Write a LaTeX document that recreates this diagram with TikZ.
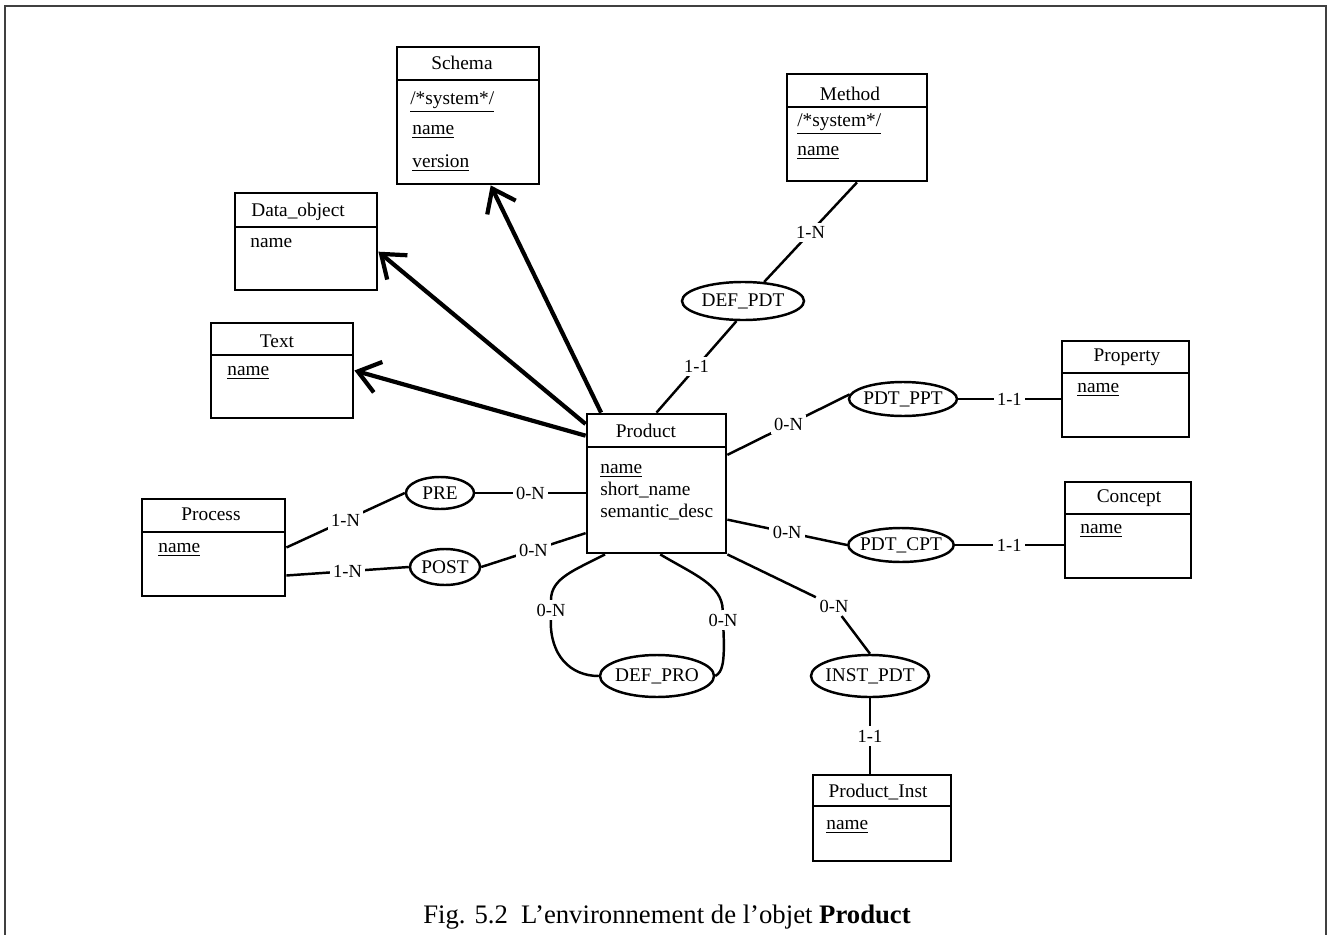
\documentclass[tikz,border=0pt]{standalone}
\usepackage{fontspec}
\setmainfont{Liberation Serif}
\usetikzlibrary{arrows.meta,shapes.geometric,positioning,calc}

\begin{document}
\begin{tikzpicture}[
    x=0.2mm, y=-0.2mm,
    ent/.style={draw, line width=1.6pt, inner sep=0pt},
    hdr/.style={line width=1.6pt},
    ttl/.style={inner sep=0pt, font=\fontsize{11}{13}\selectfont},
    attr/.style={anchor=west, inner sep=0pt, align=left, font=\fontsize{11}{12.5}\selectfont},
    rel/.style={draw, ellipse, line width=1.4pt, inner xsep=-2pt, inner ysep=0pt, font=\fontsize{11}{13}\selectfont},
    card/.style={fill=white, inner sep=2pt, font=\fontsize{10.5}{12}\selectfont},
    link/.style={line width=1.4pt},
    isa/.style={line width=2.4pt, -{Straight Barb[length=12pt,width=18pt]}}
]
\useasboundingbox (0,0) rectangle (1332,935);
\draw[line width=1.2pt, black!75] (5,935) -- (5,6) -- (1326,6) -- (1326,935);

% entities
\node[ent, minimum width=28.4mm, minimum height=27.4mm] (schema) at (468,115.5) {};
\draw[hdr] (397,80) -- (539,80);
\node[ttl] at (462,63) {Schema};
\node[attr] at (410,102) {\underline{/*system*/}};
\node[attr] at (412,132) {\underline{name}};
\node[attr] at (412,163) {\underline{version}};

\node[ent, minimum width=28mm, minimum height=21.4mm] (method) at (857,127.5) {};
\draw[hdr] (787,107) -- (927,107);
\node[ttl] at (850,94) {Method};
\node[attr] at (797,124) {\underline{/*system*/}};
\node[attr] at (797,153) {\underline{name}};

\node[ent, minimum width=28.4mm, minimum height=19.4mm] (dataobj) at (306,241.5) {};
\draw[hdr] (235,227) -- (377,227);
\node[ttl] at (298,212) {Data\_object};
\node[attr] at (250,243) {name};

\node[ent, minimum width=28.4mm, minimum height=19mm] (txt) at (282,370.5) {};
\draw[hdr] (211,355) -- (353,355);
\node[ttl] at (277,341) {Text};
\node[attr] at (227,373) {\underline{name}};

\node[ent, minimum width=27.8mm, minimum height=27.8mm] (product) at (656.5,483.5) {};
\draw[hdr] (587,447) -- (726,447);
\node[ttl] at (646,431) {Product};
\node[attr] at (600,492) {\underline{name}\\short\_name\\semantic\_desc};

\node[ent, minimum width=28.6mm, minimum height=19.4mm] (process) at (213.5,547.5) {};
\draw[hdr] (142,532) -- (285,532);
\node[ttl] at (211,514) {Process};
\node[attr] at (158,550) {\underline{name}};

\node[ent, minimum width=25.4mm, minimum height=19.2mm] (property) at (1125.5,389) {};
\draw[hdr] (1062,373) -- (1189,373);
\node[ttl] at (1127,357) {Property};
\node[attr] at (1077,390) {\underline{name}};

\node[ent, minimum width=25.2mm, minimum height=19.2mm] (concept) at (1128,530) {};
\draw[hdr] (1065,514) -- (1191,514);
\node[ttl] at (1129,498) {Concept};
\node[attr] at (1080,531) {\underline{name}};

\node[ent, minimum width=27.6mm, minimum height=17.2mm] (pinst) at (882,818) {};
\draw[hdr] (813,806) -- (951,806);
\node[ttl] at (878,792) {Product\_Inst};
\node[attr] at (826,827) {\underline{name}};

% relationships
\node[rel, minimum width=24.4mm, minimum height=7.6mm] (defpdt) at (743,301) {DEF\_PDT};
\node[rel, minimum width=21.6mm, minimum height=6.8mm] (pdtppt) at (903,399) {PDT\_PPT};
\node[rel, minimum width=20.8mm, minimum height=6.8mm] (pdtcpt) at (901,545) {PDT\_CPT};
\node[rel, minimum width=13.6mm, minimum height=6.4mm] (pre) at (440,493) {PRE};
\node[rel, minimum width=14mm, minimum height=7.2mm] (post) at (445,567) {POST};
\node[rel, minimum width=22.8mm, minimum height=8.4mm] (defpro) at (657,676) {DEF\_PRO};
\node[rel, minimum width=23.6mm, minimum height=8.4mm] (instpdt) at (870,676) {INST\_PDT};

% links
\draw[link] (method.south) -- node[card] {1-N} (defpdt.42);
\draw[link] (defpdt.252) -- node[card] {1-1} (product.north);
\draw[link] (product.22) -- node[card] {0-N} (pdtppt.175);
\draw[link] (pdtppt.east) -- node[card] {1-1} (pdtppt.east -| property.west);
\draw[link] (product.333) -- node[card] {0-N} (pdtcpt.west);
\draw[link] (pdtcpt.east) -- node[card] {1-1} (pdtcpt.east -| concept.west);
\node[card] (cinst) at (834,606) {0-N};
\draw[link] (product.south east) -- (cinst) -- (instpdt.north);
\draw[link] (instpdt.south) -- node[card] {1-1} (instpdt.south |- pinst.north);
\draw[link] (pre.east) -- node[card] {0-N} (pre.east -| product.west);
\draw[link] (process.east) -- node[card] {1-N} (pre.west);
\draw[link] (process.339) -- node[card] {1-N} (post.west);
\draw[link] (post.east) -- node[card] {0-N} (product.215);

% recursive DEF_PRO
\node[card] (cpro1) at (551,610) {0-N};
\node[card] (cpro2) at (723,620) {0-N};
\draw[link] (product.234) .. controls (575,570) and (551,578) .. (cpro1);
\draw[link] (cpro1) .. controls (550,655) and (570,676) .. (defpro.west);
\draw[link] (product.273) .. controls (695,575) and (722,585) .. (cpro2);
\draw[link] (cpro2) .. controls (725,665) and (722,672) .. (defpro.east);

% is-a arrows
\draw[isa] (product.128) -- (schema.288);
\draw[isa] (product.140) -- (dataobj.352);
\draw[isa] (product.146) -- (txt.east);

\node[font=\fontsize{15.2}{18}\selectfont] (caption) at (667,917) {Fig. 5.2~~L'environnement de l'objet \textbf{Product}};
\end{tikzpicture}
\end{document}
